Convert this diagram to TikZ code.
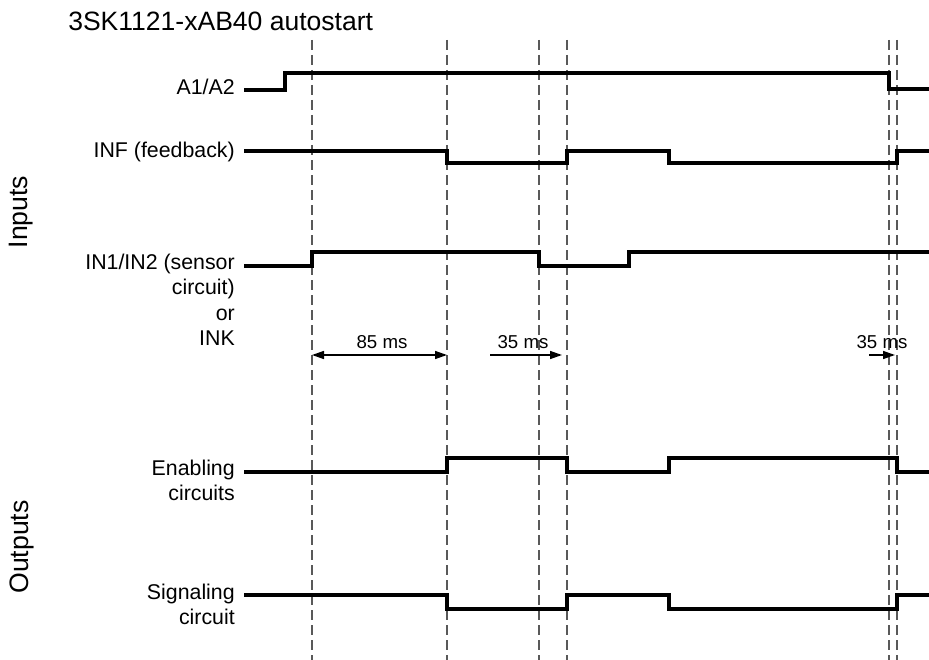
\documentclass[tikz,border=0pt]{standalone}
\usepackage{fontspec}
\setmainfont{Liberation Sans}
\usetikzlibrary{arrows.meta}
\begin{document}
\begin{tikzpicture}[x=0.75pt,y=-0.75pt,
  sig/.style={line width=3pt,line join=miter,black},
  guide/.style={line width=0.8pt,draw=black!65,dash pattern=on 7.5pt off 3.75pt},
  lbl/.style={anchor=base east,inner sep=0pt,font=\fontsize{16}{19}\selectfont},
  mslbl/.style={anchor=base,inner sep=0pt,font=\fontsize{14}{17}\selectfont},
  side/.style={rotate=90,inner sep=0pt,font=\fontsize{20}{24}\selectfont},
  dim/.style={line width=1.1pt,black},
  tip/.style={-{Triangle[length=9pt,width=6pt]}}]
\useasboundingbox (0,0) rectangle (929,660);
% title
\node[anchor=base west,inner sep=0pt,font=\fontsize{19.9}{24}\selectfont] (title) at (68,31) {3SK1121-xAB40 autostart};
% side labels
\node[side] (inputs) at (21,212) {Inputs};
\node[side] (outputs) at (22,547) {Outputs};
% dashed guides
\foreach \x/\n in {312/g1,447/g2,539/g3,567/g4,889/g5,897/g6}{
  \coordinate (\n t) at (\x,40);
  \coordinate (\n b) at (\x,660);
  \draw[guide] (\n t) -- (\n b);
}
% labels
\node[lbl] (la) at (235,95) {A1/A2};
\node[lbl] (lb) at (235,157) {INF (feedback)};
\node[lbl] (lc1) at (235,269) {IN1/IN2 (sensor};
\node[lbl] (lc2) at (235,294.6) {circuit)};
\node[lbl] (lc3) at (235,320.2) {or};
\node[lbl] (lc4) at (235,345.8) {INK};
\node[lbl] (ld1) at (235,475) {Enabling};
\node[lbl] (ld2) at (235,500.5) {circuits};
\node[lbl] (le1) at (235,599) {Signaling};
\node[lbl] (le2) at (235,624.5) {circuit};
% signals
\draw[sig] (244,90) -- (285,90) -- (285,73) -- (889,73) -- (889,89) -- (929,89);
\draw[sig] (244,151) -- (447,151) -- (447,163) -- (567,163) -- (567,151) -- (669,151) -- (669,163) -- (897,163) -- (897,151) -- (929,151);
\draw[sig] (244,266) -- (312,266) -- (312,252) -- (539,252) -- (539,266) -- (629,266) -- (629,252) -- (929,252);
\draw[sig] (244,472) -- (447,472) -- (447,458) -- (567,458) -- (567,472) -- (669,472) -- (669,458) -- (897,458) -- (897,472) -- (929,472);
\draw[sig] (244,595) -- (447,595) -- (447,609) -- (567,609) -- (567,595) -- (669,595) -- (669,609) -- (897,609) -- (897,595) -- (929,595);
% dimension arrows
\coordinate (a1l) at (312,355);
\coordinate (a1r) at (447,355);
\coordinate (a2l) at (490,355);
\coordinate (a2r) at (562,355);
\coordinate (a3l) at (869,355);
\coordinate (a3r) at (895,355);
\draw[dim,{Triangle[length=9pt,width=6pt]}-{Triangle[length=9pt,width=6pt]}] (a1l) -- (a1r);
\draw[dim,tip] (a2l) -- (a2r);
\draw[dim,tip] (a3l) -- (a3r);
\node[mslbl] (m1) at (382,348) {85 ms};
\node[mslbl] (m2) at (523,348) {35 ms};
\node[mslbl] (m3) at (882,348) {35 ms};
\end{tikzpicture}
\end{document}
